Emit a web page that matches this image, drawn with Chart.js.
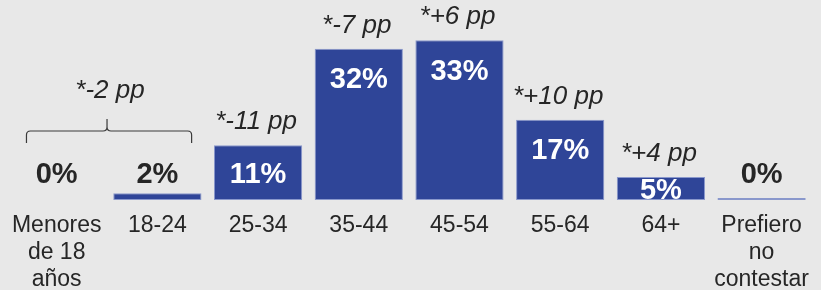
<!DOCTYPE html>
<html>
<head>
<meta charset="utf-8">
<script src="https://cdn.jsdelivr.net/npm/chart.js@4/dist/chart.umd.min.js"></script>
<style>
  html, body { margin: 0; padding: 0; background: #e8e8e8; }
  #wrap { width: 821px; height: 290px; }
</style>
</head>
<body>
<div id="wrap"><canvas id="c" width="821" height="290"></canvas></div>
<script>
// ---- data ----
const categories = [
  ['Menores', 'de 18', 'años'],
  '18-24', '25-34', '35-44', '45-54', '55-64', '64+',
  ['Prefiero', 'no', 'contestar']
];
const shares = [0, 1.4, 11.4, 31.5, 33.3, 16.7, 4.8, 0.4];
const shareLabels = ['0%', '2%', '11%', '32%', '33%', '17%', '5%', '0%'];
const changeLabels = ['', '', '*-11 pp', '*-7 pp', '*+6 pp', '*+10 pp', '*+4 pp', ''];
const groupChangeLabel = '*-2 pp';
const groupChangeRange = [0, 1];

const TEXT = '#262626';
const FONT = '"Liberation Sans", Arial, Helvetica, sans-serif';

const labelPlugin = {
  id: 'labels',
  afterDatasetsDraw(chart) {
    const ctx = chart.ctx;
    const meta = chart.getDatasetMeta(0);
    const base = chart.scales.y.getPixelForValue(0);
    ctx.save();
    meta.data.forEach((bar, i) => {
      const top = bar.y;
      const v = shares[i];
      ctx.font = 'bold 29px ' + FONT;
      ctx.textAlign = 'center';
      ctx.textBaseline = 'alphabetic';
      let center;
      if (v >= 3) {
        ctx.fillStyle = '#ffffff';
        center = Math.min(top + 29, (top + base) / 2);
      } else {
        ctx.fillStyle = TEXT;
        center = Math.min(top - 20, base - 27);
      }
      ctx.fillText(shareLabels[i], bar.x, center + 0.358 * 29);
      if (changeLabels[i]) {
        ctx.font = 'italic 26px ' + FONT;
        ctx.fillStyle = TEXT;
        ctx.fillText(changeLabels[i], bar.x - 2, top - 16);
      }
    });
    // brace across the grouped categories
    const x0 = meta.data[groupChangeRange[0]].x;
    const x1 = meta.data[groupChangeRange[1]].x;
    const step = x1 - x0;
    const left = x0 - 0.3 * step;
    const right = x1 + 0.34 * step;
    const mid = (x0 + x1) / 2;
    const yLine = 131, yEnd = 143, yPeak = 119, r = 4;
    ctx.strokeStyle = '#3a3a3a';
    ctx.lineWidth = 1.2;
    ctx.beginPath();
    ctx.moveTo(left, yEnd);
    ctx.lineTo(left, yLine + r);
    ctx.quadraticCurveTo(left, yLine, left + r, yLine);
    ctx.lineTo(mid - r, yLine);
    ctx.quadraticCurveTo(mid, yLine, mid, yLine - r);
    ctx.lineTo(mid, yPeak);
    ctx.moveTo(mid, yLine - r);
    ctx.quadraticCurveTo(mid, yLine, mid + r, yLine);
    ctx.lineTo(right - r, yLine);
    ctx.quadraticCurveTo(right, yLine, right, yLine + r);
    ctx.lineTo(right, yEnd);
    ctx.stroke();
    ctx.font = 'italic 26px ' + FONT;
    ctx.fillStyle = TEXT;
    ctx.textAlign = 'center';
    ctx.fillText(groupChangeLabel, mid + 3, 98);
    ctx.restore();
  }
};

new Chart(document.getElementById('c'), {
  type: 'bar',
  data: {
    labels: categories,
    datasets: [{
      data: shares,
      backgroundColor: '#2f4598',
      borderColor: '#8a98cc',
      borderWidth: (c) => (shares[c.dataIndex] > 0 ? 1 : 0),
      borderSkipped: false,
      categoryPercentage: 1,
      barPercentage: 0.876
    }]
  },
  options: {
    responsive: false,
    animation: false,
    devicePixelRatio: 1,
    layout: { padding: { top: 8, left: 6, right: 2, bottom: 0 } },
    plugins: { legend: { display: false }, tooltip: { enabled: false } },
    scales: {
      y: { display: false, min: 0, max: 40 },
      x: {
        afterFit(scale) { scale.height = 90; },
        grid: { display: false, drawTicks: false },
        border: { display: false },
        ticks: {
          color: TEXT,
          font: { family: FONT, size: 23, lineHeight: 1.17 },
          padding: 12,
          maxRotation: 0,
          autoSkip: false
        }
      }
    }
  },
  plugins: [labelPlugin]
});
</script>
</body>
</html>
